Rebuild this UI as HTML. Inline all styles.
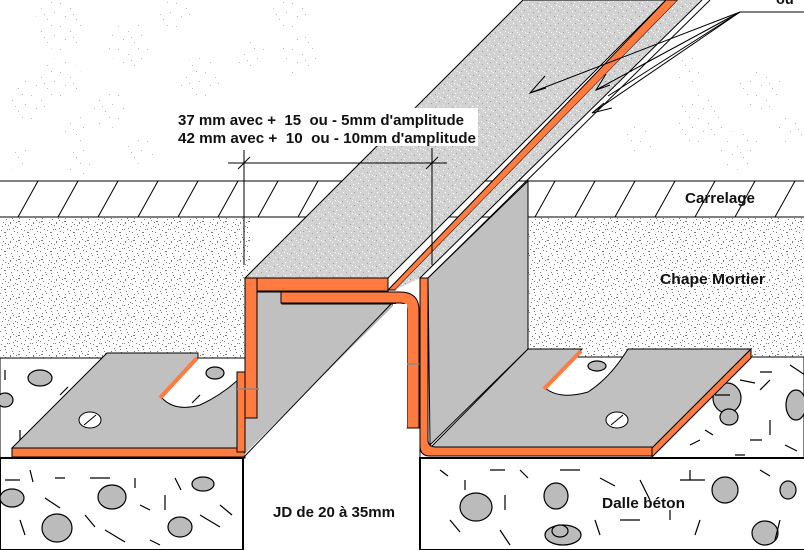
<!DOCTYPE html>
<html><head><meta charset="utf-8"><style>
html,body{margin:0;padding:0;background:#fff;width:804px;height:550px;overflow:hidden}
svg{display:block}
text{font-family:"Liberation Sans",Arial,sans-serif;font-weight:bold;fill:#111}
</style></head><body>
<svg width="804" height="550" viewBox="0 0 804 550" xmlns="http://www.w3.org/2000/svg">
<defs>
<pattern id="spk" width="23" height="19" patternUnits="userSpaceOnUse">
<rect width="23" height="19" fill="#fff"/>
<g fill="#7a7a7a">
<rect x="1" y="2" width="1" height="1"/><rect x="5" y="7" width="1" height="1"/><rect x="9" y="1" width="1" height="1"/><rect x="13" y="11" width="1" height="1"/><rect x="17" y="4" width="1" height="1"/><rect x="20" y="15" width="1" height="1"/><rect x="3" y="13" width="1" height="1"/><rect x="8" y="16" width="1" height="1"/><rect x="11" y="6" width="1" height="1"/><rect x="15" y="17" width="1" height="1"/><rect x="19" y="9" width="1" height="1"/><rect x="6" y="10" width="1" height="1"/><rect x="14" y="3" width="1" height="1"/><rect x="21" y="1" width="1" height="1"/><rect x="2" y="17" width="1" height="1"/><rect x="16" y="13" width="1" height="1"/>
<rect x="4" y="4" width="2" height="1"/><rect x="10" y="13" width="1" height="2"/><rect x="18" y="12" width="2" height="1"/><rect x="12" y="9" width="1" height="1"/><rect x="0" y="8" width="1" height="1"/><rect x="7" y="1" width="1" height="1"/><rect x="22" y="6" width="1" height="1"/><rect x="17" y="18" width="1" height="1"/><rect x="5" y="15" width="1" height="1"/><rect x="13" y="0" width="1" height="1"/>
</g></pattern>
<pattern id="bar" width="17" height="13" patternUnits="userSpaceOnUse">
<rect width="17" height="13" fill="#d2d2d2"/>
<g fill="#fff"><rect x="1" y="1" width="1" height="1"/><rect x="5" y="4" width="1" height="1"/><rect x="9" y="8" width="1" height="1"/><rect x="13" y="2" width="1" height="1"/><rect x="3" y="10" width="1" height="1"/><rect x="11" y="11" width="1" height="1"/><rect x="15" y="6" width="1" height="1"/><rect x="7" y="6" width="1" height="1"/><rect x="12" y="5" width="1" height="1"/><rect x="0" y="7" width="1" height="1"/></g>
<g fill="#a0a0a0"><rect x="2" y="6" width="1" height="1"/><rect x="10" y="3" width="1" height="1"/><rect x="14" y="10" width="1" height="1"/><rect x="6" y="12" width="1" height="1"/></g>
</pattern>
<pattern id="cloud" width="29" height="23" patternUnits="userSpaceOnUse">
<g fill="#bbb"><rect x="2" y="3" width="1" height="1"/><rect x="12" y="8" width="1" height="1"/><rect x="22" y="2" width="1" height="1"/><rect x="7" y="16" width="1" height="1"/><rect x="18" y="19" width="1" height="1"/><rect x="25" y="12" width="1" height="1"/><rect x="15" y="14" width="1" height="1"/></g>
</pattern>
</defs>

<g fill="url(#cloud)">
<circle cx="60" cy="25" r="25"/><circle cx="60" cy="80" r="22"/><circle cx="130" cy="45" r="22"/><circle cx="110" cy="110" r="18"/><circle cx="75" cy="130" r="14"/><circle cx="80" cy="160" r="15"/><circle cx="30" cy="100" r="20"/><circle cx="175" cy="15" r="15"/><circle cx="200" cy="80" r="22"/><circle cx="250" cy="55" r="15"/><circle cx="290" cy="15" r="18"/><circle cx="300" cy="55" r="20"/><circle cx="20" cy="160" r="12"/><circle cx="140" cy="150" r="14"/><circle cx="230" cy="125" r="15"/><circle cx="700" cy="120" r="25"/><circle cx="760" cy="90" r="22"/><circle cx="640" cy="140" r="15"/><circle cx="740" cy="150" r="20"/><circle cx="790" cy="130" r="14"/><circle cx="690" cy="70" r="14"/><circle cx="620" cy="60" r="18"/><circle cx="560" cy="110" r="12"/>
</g>

<rect x="0" y="181" width="804" height="36" fill="#fff"/>
<g stroke="#000" stroke-width="1">
<line x1="0" y1="181" x2="804" y2="181"/><line x1="0" y1="217" x2="804" y2="217"/>
<line x1="18" y1="217" x2="38" y2="181"/><line x1="58" y1="217" x2="78" y2="181"/><line x1="98" y1="217" x2="118" y2="181"/><line x1="138" y1="217" x2="158" y2="181"/><line x1="178" y1="217" x2="198" y2="181"/><line x1="218" y1="217" x2="238" y2="181"/><line x1="258" y1="217" x2="278" y2="181"/><line x1="298" y1="217" x2="318" y2="181"/><line x1="338" y1="217" x2="358" y2="181"/>
<line x1="535" y1="217" x2="555" y2="181"/><line x1="575" y1="217" x2="595" y2="181"/><line x1="615" y1="217" x2="635" y2="181"/><line x1="655" y1="217" x2="675" y2="181"/><line x1="695" y1="217" x2="715" y2="181"/><line x1="735" y1="217" x2="755" y2="181"/><line x1="775" y1="217" x2="795" y2="181"/>
</g>
<rect x="0" y="218" width="250" height="140" fill="url(#spk)"/>
<rect x="528" y="218" width="276" height="139" fill="url(#spk)"/>
<line x1="528" y1="181" x2="528" y2="357" stroke="#000"/>

<rect x="0" y="358" width="245" height="100" fill="#fff" stroke="#000"/>
<rect x="420" y="357" width="384" height="101" fill="#fff" stroke="#000"/>
<rect x="0" y="458" width="243" height="92" fill="#fff" stroke="#000" stroke-width="2"/>
<rect x="420" y="458" width="390" height="92" fill="#fff" stroke="#000" stroke-width="2"/>

<g fill="#bbb" stroke="#000" stroke-width="1.2">
<ellipse cx="40" cy="378" rx="12" ry="8"/><ellipse cx="5" cy="400" rx="8" ry="7"/><ellipse cx="215" cy="373" rx="9" ry="6"/>
<ellipse cx="12" cy="498" rx="12" ry="9"/><ellipse cx="112" cy="497" rx="14" ry="12"/><ellipse cx="203" cy="484" rx="11" ry="7"/><ellipse cx="57" cy="528" rx="15" ry="14"/><ellipse cx="180" cy="527" rx="12" ry="10"/>
<ellipse cx="597" cy="366" rx="9" ry="5"/><ellipse cx="727" cy="398" rx="14" ry="15"/><ellipse cx="729" cy="417" rx="9" ry="8" /><ellipse cx="796" cy="405" rx="10" ry="15"/>
<ellipse cx="476" cy="507" rx="16" ry="14"/><ellipse cx="556" cy="496" rx="12" ry="13"/><ellipse cx="725" cy="490" rx="13" ry="13"/><ellipse cx="788" cy="490" rx="8" ry="9"/><ellipse cx="563" cy="535" rx="18" ry="10"/><ellipse cx="765" cy="533" rx="13" ry="12"/><ellipse cx="560" cy="531" rx="8" ry="6"/>
</g>
<g stroke="#000" stroke-width="1.2" fill="none">
<path d="M5 370 v10 M60 395 l8 -8 M70 410 h12 M20 430 v12 M100 372 l10 4 M150 380 v8 M200 395 l-8 8 M175 430 h14 M110 440 l8 -6"/>
<path d="M5 480 h15 M30 470 l3 12 M55 478 h10 M90 478 h20 M135 478 v10 M175 478 l6 12 M45 498 l15 10 M165 495 v15 M85 515 l10 12 M140 505 l10 5 M20 520 l5 15 M105 530 l20 12 M220 505 l12 10 M200 515 l20 12 M150 540 l10 5"/>
<path d="M440 470 l8 6 M465 480 v10 M490 470 h15 M520 470 l8 8 M560 470 h20 M600 478 l15 8 M640 480 l10 20 M680 480 h25 M690 470 v10 M760 470 l10 6 M505 495 v15 M450 520 l10 12 M500 530 l10 15 M620 520 h20 M670 510 v10 M700 520 l-5 15 M780 520 l-5 20 M595 520 l5 15"/>
<path d="M760 372 l12 0 M790 365 l15 10 M740 380 l15 3 M715 395 h15 M770 420 v15 M705 430 l8 5 M690 445 l10 -5 M750 440 h12 M785 445 l12 6 M735 455 h10 M770 380 l-10 10"/>
</g>

<path d="M12 448 L107 353 L198 353 L198 358 L162 398 Q175 412 200 405 Q222 395 240 378 L240 448 Z" fill="#c0c0c0" stroke="#000"/>
<path d="M160 398 L197 358" stroke="#ff7b3f" stroke-width="4"/>
<rect x="12" y="448" width="233" height="9" fill="#ff7b3f" stroke="#000"/>
<ellipse cx="90" cy="420" rx="11" ry="8" fill="#fff" stroke="#000"/><line x1="84" y1="425" x2="96" y2="415" stroke="#000"/>
<rect x="237" y="372" width="8" height="80" fill="#ff7b3f" stroke="#000"/>

<rect x="244" y="459" width="176" height="91" fill="#fff"/>
<line x1="243" y1="458" x2="243" y2="550" stroke="#000" stroke-width="2"/>
<line x1="420" y1="458" x2="420" y2="550" stroke="#000" stroke-width="2"/>

<polygon points="245,278 523,0 666,0 388,278" fill="url(#bar)" stroke="#000"/>
<polygon points="388,290 666,0 678,0 395,290" fill="#ff7b3f" stroke="#000"/>
<polygon points="395,290 678,0 702,0 420,278" fill="url(#bar)"/>
<line x1="702" y1="0" x2="420" y2="278" stroke="#000"/>
<line x1="710" y1="0" x2="428" y2="278" stroke="#000"/>

<polygon points="257,292 282,292 282,304 395,304 245,455 245,418 257,418" fill="#c0c0c0" stroke="#000"/>
<line x1="245" y1="455" x2="395" y2="305" stroke="#fff" stroke-width="2"/>
<line x1="243" y1="458" x2="393" y2="302" stroke="#000"/>
<rect x="245" y="278" width="143" height="13" fill="#ff7b3f" stroke="#000"/>
<rect x="245" y="278" width="12" height="140" fill="#ff7b3f" stroke="#000"/>
<path d="M281 292 H400 Q419 292 419 310 V428 H407 V310 Q407 303 400 303 H281 Z" fill="#ff7b3f" stroke="#000"/>
<rect x="393" y="304" width="14" height="124" fill="#fff"/>
<line x1="237" y1="389" x2="259" y2="389" stroke="#888" stroke-width="1.5"/>
<line x1="407" y1="364" x2="430" y2="364" stroke="#888" stroke-width="1.5"/>

<polygon points="428,278 528,181 528,349 430,445" fill="#c0c0c0" stroke="#000"/>
<path d="M430 448 L528 349 L582 349 L545 388 Q560 400 588 392 Q610 378 628 349 L751 349 L652 448 Z" fill="#c0c0c0" stroke="#000"/>
<path d="M544 389 L581 351" stroke="#ff7b3f" stroke-width="4"/>
<polygon points="652,448 751,349 751,358 652,457" fill="#ff7b3f" stroke="#000"/>
<path d="M420 278 H428 V440 Q428 447 436 447 H652 V456 H430 Q420 456 420 446 Z" fill="#ff7b3f" stroke="#000"/>
<ellipse cx="617" cy="420" rx="11" ry="8" fill="#fff" stroke="#000"/><line x1="611" y1="425" x2="623" y2="415" stroke="#000"/>

<g stroke="#000" stroke-width="1" fill="none">
<line x1="228" y1="163" x2="447" y2="163"/>
<line x1="244" y1="150" x2="244" y2="265"/>
<line x1="432" y1="148" x2="432" y2="265"/>
<line x1="238" y1="169" x2="250" y2="157"/><line x1="426" y1="169" x2="438" y2="157"/>
<line x1="740" y1="12" x2="804" y2="12"/>
<line x1="740" y1="12" x2="530" y2="93"/><line x1="740" y1="12" x2="596" y2="90"/><line x1="740" y1="12" x2="608" y2="96"/><line x1="740" y1="12" x2="592" y2="113"/>
<path d="M545 76 L530 93 L546 88"/><path d="M606 74 L596 90 L610 85"/><path d="M612 108 L592 113 L604 103"/>
</g>

<rect x="176" y="108" width="302" height="38" fill="#fff"/>
<text x="178" y="125" font-size="14.5" textLength="286" lengthAdjust="spacingAndGlyphs">37 mm avec +&#160; 15&#160; ou - 5mm d'amplitude</text>
<text x="178" y="143" font-size="14.5" textLength="298" lengthAdjust="spacingAndGlyphs">42 mm avec +&#160; 10&#160; ou - 10mm d'amplitude</text>
<text x="685" y="203" font-size="14.5" textLength="70" lengthAdjust="spacingAndGlyphs">Carrelage</text>
<text x="660" y="284" font-size="14.5" textLength="105" lengthAdjust="spacingAndGlyphs">Chape Mortier</text>
<text x="602" y="508" font-size="14.5" textLength="83" lengthAdjust="spacingAndGlyphs">Dalle béton</text>
<text x="273" y="517" font-size="14.5" textLength="122" lengthAdjust="spacingAndGlyphs">JD de 20 à 35mm</text>
<text x="776" y="4" font-size="14.5">ou</text>
</svg>
</body></html>
